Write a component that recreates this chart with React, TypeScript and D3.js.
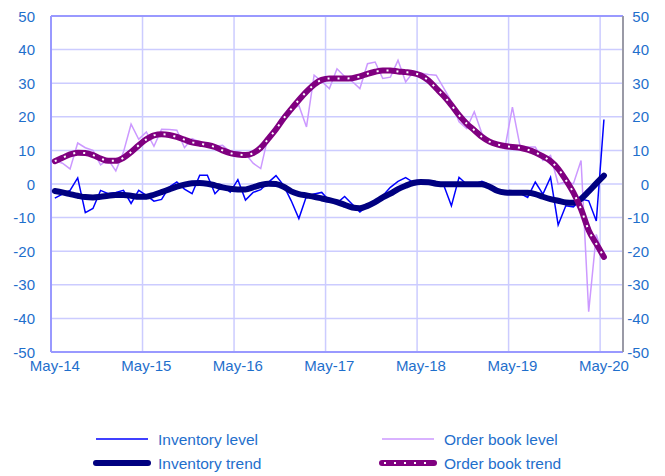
import React from "react";
import * as d3 from "d3";

// monthly categories May-14 .. Jul-20 (last two months have no data yet)
const months = d3.timeMonth.range(new Date(2014, 4, 1), new Date(2020, 7, 1));
const xTickLabels = ["May-14", "May-15", "May-16", "May-17", "May-18", "May-19", "May-20"];
const yTicks = [-50, -40, -30, -20, -10, 0, 10, 20, 30, 40, 50];

const inventoryLevel = [
  -4.2, -3.0, -1.9, 1.8, -8.5, -7.3, -1.9, -2.9, -2.5, -1.9, -5.8, -1.9,
  -3.4, -5.1, -4.6, -0.9, 0.6, -1.5, -2.9, 2.6, 2.6, -2.9, -0.5, -2.4,
  1.3, -4.8, -2.5, -1.7, 0.5, 2.5, -0.4, -5.0, -10.3, -3.6, -3.0, -2.5,
  -5.0, -5.7, -3.7, -6.0, -8.3, -6.5, -5.5, -3.5, -1.0, 0.8, 1.9, 0.5,
  0.5, 0.1, 0.2, -0.4, -6.5, 2.0, -0.1, 0.0, 0.8, -0.3, -1.8, -2.4,
  -2.5, -2.8, -4.0, 0.6, -3.0, 2.0, -12.2, -6.5, -6.8, -4.5, -5.0, -11.0,
  19.2,
];
const inventoryTrend = [
  -2.1, -2.5, -3.0, -3.5, -3.9, -4.0, -3.8, -3.5, -3.3, -3.3, -3.5, -3.8,
  -3.8, -3.2, -2.4, -1.6, -0.8, -0.2, 0.2, 0.3, 0.1, -0.4, -1.0, -1.4,
  -1.6, -1.6, -1.0, -0.3, 0.1, 0.0, -0.8, -2.2, -3.0, -3.4, -3.8, -4.3,
  -4.8, -5.4, -6.2, -7.0, -7.2, -6.5, -5.4, -4.0, -2.9, -1.5, -0.5, 0.3,
  0.6, 0.5, 0.1, -0.1, -0.1, -0.1, -0.1, -0.1, -0.1, -0.8, -2.0, -2.5,
  -2.6, -2.6, -2.6, -3.0, -3.8, -4.5, -5.0, -5.5, -5.6, -4.4, -2.2, 0.2,
  2.5,
];
const orderBookLevel = [
  7.0, 6.2, 4.5, 12.2, 10.8, 10.0, 5.7, 7.3, 3.9, 9.5, 17.8, 13.3,
  15.5, 11.2, 16.3, 16.2, 16.0, 10.8, 13.5, 12.5, 11.8, 11.2, 11.5, 9.5,
  9.5, 9.0, 6.2, 4.6, 14.5, 16.5, 19.5, 22.0, 23.4, 17.0, 32.4, 30.5,
  28.4, 34.3, 32.0, 30.5, 28.4, 35.8, 36.3, 31.4, 31.8, 36.8, 30.4, 33.3,
  33.0, 32.6, 32.4, 28.5, 24.5, 18.5, 16.5, 21.5, 15.0, 13.0, 11.5, 10.5,
  22.9, 11.3, 11.0, 11.0, 7.0, 8.5, 0.0, 0.6, 0.1, 7.0, -38.0, -15.0,
  -22.5,
];
const orderBookTrend = [
  6.8, 7.8, 8.8, 9.3, 9.2, 8.6, 7.6, 6.9, 6.9, 7.8, 9.5, 11.5,
  13.3, 14.5, 14.8, 14.6, 14.0, 13.2, 12.4, 12.0, 11.6, 11.0, 10.0, 9.2,
  8.8, 8.6, 9.2, 10.8, 13.5, 16.3, 19.5, 22.3, 25.0, 27.5, 29.6, 31.0,
  31.4, 31.4, 31.4, 31.5, 32.0, 32.8, 33.4, 33.8, 33.8, 33.5, 33.3, 33.0,
  32.3, 30.8, 28.5, 26.2, 23.5, 20.5, 18.0, 16.0, 14.0, 12.6, 11.8, 11.3,
  11.0, 10.8, 10.2, 9.4, 8.2, 6.8, 4.5, 1.2, -2.6, -7.5, -13.8, -17.8,
  -21.7,
];

const W = 665;
const H = 476;
const left = 51, right = 623, top = 16, bottom = 352;
const textColor = "#1f6fcc";
const font = "'Liberation Sans', Arial, sans-serif";

export default function App() {
  const x = d3.scaleBand<number>().domain(d3.range(months.length)).range([left, right]);
  const cx = (i: number) => (x(i) as number) + x.bandwidth() / 2;
  const y = d3.scaleLinear().domain([-50, 50]).range([bottom, top]);

  const rawLine = d3.line<number>().x((_, i) => cx(i)).y((d) => y(d));
  const smoothLine = d3.line<number>().x((_, i) => cx(i)).y((d) => y(d)).curve(d3.curveMonotoneX);

  const yearStarts = months.map((m, i) => (m.getMonth() === 4 ? i : -1)).filter((i) => i >= 0);

  const legend = [
    { label: "Inventory level", lx: 96, ly: 439, kind: "invL" },
    { label: "Inventory trend", lx: 96, ly: 463, kind: "invT" },
    { label: "Order book level", lx: 382, ly: 439, kind: "obL" },
    { label: "Order book trend", lx: 382, ly: 463, kind: "obT" },
  ];

  return (
    <svg width={W} height={H} style={{ position: "absolute", left: 0, top: 0, background: "#fff" }}>
      {/* horizontal grid */}
      {yTicks.map((t) => (
        <line key={"h" + t} x1={left} x2={right} y1={y(t)} y2={y(t)} stroke="#ccccff" strokeWidth={1.5} />
      ))}
      {/* vertical grid at each May */}
      {yearStarts.filter((i) => i > 0).map((i) => (
        <line key={"v" + i} x1={x(i)} x2={x(i)} y1={top} y2={bottom} stroke="#ccccff" strokeWidth={1.5} />
      ))}
      {/* frame */}
      <line x1={left} x2={right} y1={top} y2={top} stroke="#9999ff" strokeWidth={2} />
      <line x1={left} x2={right} y1={bottom} y2={bottom} stroke="#9999ff" strokeWidth={2} />
      <line x1={left} x2={left} y1={top} y2={bottom} stroke="#9999ff" strokeWidth={2} />
      <line x1={right} x2={right} y1={top} y2={bottom} stroke="#9a9aa6" strokeWidth={2} />

      {/* series */}
      <path d={rawLine(orderBookLevel) || ""} fill="none" stroke="#cc99ff" strokeWidth={1.5} />
      <path d={rawLine(inventoryLevel) || ""} fill="none" stroke="#0000ff" strokeWidth={1.5} />
      <path d={smoothLine(inventoryTrend) || ""} fill="none" stroke="#000080" strokeWidth={6} strokeLinecap="round" strokeLinejoin="round" />
      <path d={smoothLine(orderBookTrend) || ""} fill="none" stroke="#800080" strokeWidth={6} strokeLinecap="round" strokeLinejoin="round" />
      <path d={smoothLine(orderBookTrend) || ""} fill="none" stroke="#ffffff" strokeWidth={2} strokeDasharray="2 8" />

      {/* y labels */}
      {yTicks.map((t) => (
        <g key={"yl" + t} fontFamily={font} fontSize={15} fill={textColor}>
          <text x={35} y={y(t)} textAnchor="end" dominantBaseline="central">{t}</text>
          <text x={649} y={y(t)} textAnchor="end" dominantBaseline="central">{t}</text>
        </g>
      ))}
      {/* x labels */}
      {yearStarts.map((i, k) => (
        <text key={"xl" + i} x={cx(i)} y={371} textAnchor="middle" fontFamily={font} fontSize={15} fill={textColor}>
          {xTickLabels[k]}
        </text>
      ))}

      {/* legend */}
      {legend.map((e) => (
        <g key={e.label}>
          {e.kind === "invL" && <line x1={e.lx} x2={e.lx + 52} y1={e.ly} y2={e.ly} stroke="#0000ff" strokeWidth={1.5} />}
          {e.kind === "obL" && <line x1={e.lx} x2={e.lx + 52} y1={e.ly} y2={e.ly} stroke="#cc99ff" strokeWidth={1.5} />}
          {e.kind === "invT" && <line x1={e.lx} x2={e.lx + 52} y1={e.ly} y2={e.ly} stroke="#000080" strokeWidth={6} strokeLinecap="round" />}
          {e.kind === "obT" && (
            <g>
              <line x1={e.lx} x2={e.lx + 52} y1={e.ly} y2={e.ly} stroke="#800080" strokeWidth={6} strokeLinecap="round" />
              <line x1={e.lx + 2} x2={e.lx + 52} y1={e.ly} y2={e.ly} stroke="#ffffff" strokeWidth={2} strokeDasharray="2 8" />
            </g>
          )}
          <text x={e.lx + 62} y={e.ly} dominantBaseline="central" fontFamily={font} fontSize={15.5} fill={textColor}>
            {e.label}
          </text>
        </g>
      ))}
    </svg>
  );
}
